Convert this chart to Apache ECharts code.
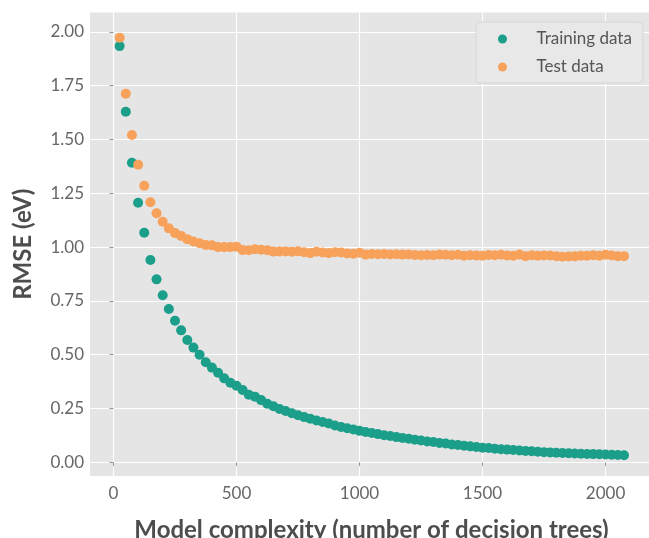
<!DOCTYPE html>
<html>
<head>
<meta charset="utf-8">
<script src="https://cdn.jsdelivr.net/npm/echarts@6/dist/echarts.min.js"></script>
<style>
  html, body { margin: 0; padding: 0; background: #fff; }
  #chart { width: 649px; height: 538px; }
</style>
</head>
<body>
<div id="chart"></div>
<script>
// number of decision trees
var trees = [25, 50, 75, 100, 125, 150, 175, 200, 225, 250, 275, 300, 325, 350, 375, 400,
  425, 450, 475, 500, 525, 550, 575, 600, 625, 650, 675, 700, 725, 750, 775, 800, 825, 850,
  875, 900, 925, 950, 975, 1000, 1025, 1050, 1075, 1100, 1125, 1150, 1175, 1200, 1225, 1250,
  1275, 1300, 1325, 1350, 1375, 1400, 1425, 1450, 1475, 1500, 1525, 1550, 1575, 1600, 1625,
  1650, 1675, 1700, 1725, 1750, 1775, 1800, 1825, 1850, 1875, 1900, 1925, 1950, 1975, 2000,
  2025, 2050, 2075];

var trainRmse = [1.934, 1.629, 1.392, 1.206, 1.067, 0.940, 0.850, 0.776, 0.712, 0.658, 0.613,
  0.568, 0.533, 0.500, 0.465, 0.440, 0.416, 0.390, 0.370, 0.356, 0.336, 0.314, 0.305, 0.289,
  0.272, 0.260, 0.248, 0.238, 0.228, 0.219, 0.210, 0.202, 0.194, 0.187, 0.180, 0.171, 0.164,
  0.158, 0.152, 0.146, 0.141, 0.136, 0.131, 0.126, 0.122, 0.117, 0.113, 0.109, 0.105, 0.101,
  0.097, 0.094, 0.090, 0.087, 0.083, 0.080, 0.077, 0.074, 0.071, 0.068, 0.066, 0.063, 0.061,
  0.059, 0.057, 0.055, 0.053, 0.051, 0.049, 0.047, 0.046, 0.044, 0.043, 0.042, 0.041, 0.040,
  0.039, 0.038, 0.037, 0.036, 0.035, 0.034, 0.033];

var testRmse = [1.973, 1.713, 1.521, 1.383, 1.285, 1.208, 1.157, 1.118, 1.087, 1.065, 1.052,
  1.037, 1.026, 1.018, 1.010, 1.008, 1.000, 1.000, 1.000, 1.002, 0.986, 0.985, 0.990, 0.988,
  0.985, 0.979, 0.980, 0.980, 0.978, 0.981, 0.976, 0.972, 0.978, 0.975, 0.972, 0.976, 0.975,
  0.970, 0.969, 0.974, 0.965, 0.968, 0.967, 0.968, 0.966, 0.967, 0.965, 0.966, 0.963, 0.962,
  0.963, 0.962, 0.965, 0.964, 0.962, 0.964, 0.960, 0.962, 0.961, 0.960, 0.963, 0.962, 0.964,
  0.961, 0.960, 0.965, 0.958, 0.962, 0.960, 0.961, 0.961, 0.958, 0.955, 0.956, 0.957, 0.960,
  0.960, 0.962, 0.960, 0.964, 0.961, 0.958, 0.958];

var seriesNames = ['Training data', 'Test data'];
var colors = ['#1b9e8a', '#f7a15a'];

var myChart = echarts.init(document.getElementById('chart'));

function pairs(vals) {
  var out = [];
  for (var i = 0; i < trees.length; i++) {
    out.push([trees[i], vals[i]]);
  }
  return out;
}

var font = 'Lato, "DejaVu Sans", sans-serif';

var option = {
  backgroundColor: '#ffffff',
  animation: false,
  color: colors,
  textStyle: { fontFamily: font },
  grid: {
    left: 90,
    top: 12.5,
    width: 563,
    height: 463.5,
    outerBoundsMode: 'none',
    containLabel: false,
    show: true,
    backgroundColor: '#e5e5e5',
    borderWidth: 0
  },
  legend: {
    orient: 'vertical',
    left: 476,
    top: 22,
    padding: [7, 11, 6, 22],
    itemGap: 8,
    itemWidth: 18,
    itemHeight: 9,
    icon: 'circle',
    backgroundColor: '#e8e8e8',
    borderColor: '#d6d6d6',
    borderWidth: 1,
    borderRadius: 4,
    data: seriesNames,
    textStyle: {
      fontFamily: font,
      fontSize: 17,
      color: '#555555',
      lineHeight: 20,
      padding: [0, 0, 0, 20]
    }
  },
  xAxis: {
    type: 'value',
    min: -95.5,
    max: 2193,
    minInterval: 500,
    maxInterval: 500,
    name: 'Model complexity (number of decision trees)',
    nameLocation: 'middle',
    nameGap: 42,
    nameTextStyle: { fontFamily: font, fontSize: 24, fontWeight: 'bold', color: '#4d4d4d' },
    axisLine: { show: false },
    axisTick: { show: true, length: 4, lineStyle: { color: '#999999' } },
    axisLabel: {
      fontFamily: font, fontSize: 17, color: '#666666', margin: 9,
      showMinLabel: false, showMaxLabel: false,
      formatter: function (v) { return String(v); }
    },
    splitLine: { show: true, showMinLine: false, showMaxLine: false, lineStyle: { color: '#ffffff', width: 1.2 } }
  },
  yAxis: {
    type: 'value',
    min: -0.0637,
    max: 2.0901,
    minInterval: 0.25,
    maxInterval: 0.25,
    name: 'RMSE (eV)',
    nameLocation: 'middle',
    nameGap: 55,
    nameTextStyle: { fontFamily: font, fontSize: 24, fontWeight: 'bold', color: '#4d4d4d' },
    axisLine: { show: false },
    axisTick: { show: true, length: 4, lineStyle: { color: '#999999' } },
    axisLabel: {
      fontFamily: font, fontSize: 17, color: '#666666', margin: 6,
      showMinLabel: false, showMaxLabel: false,
      formatter: function (v) { return v.toFixed(2); }
    },
    splitLine: { show: true, showMinLine: false, showMaxLine: false, lineStyle: { color: '#ffffff', width: 1.2 } }
  },
  series: [
    {
      name: seriesNames[0],
      type: 'scatter',
      symbolSize: 10,
      data: pairs(trainRmse),
      itemStyle: { color: colors[0], opacity: 1 }
    },
    {
      name: seriesNames[1],
      type: 'scatter',
      symbolSize: 10,
      data: pairs(testRmse),
      itemStyle: { color: colors[1], opacity: 1 }
    }
  ]
};

myChart.setOption(option);
</script>
</body>
</html>
